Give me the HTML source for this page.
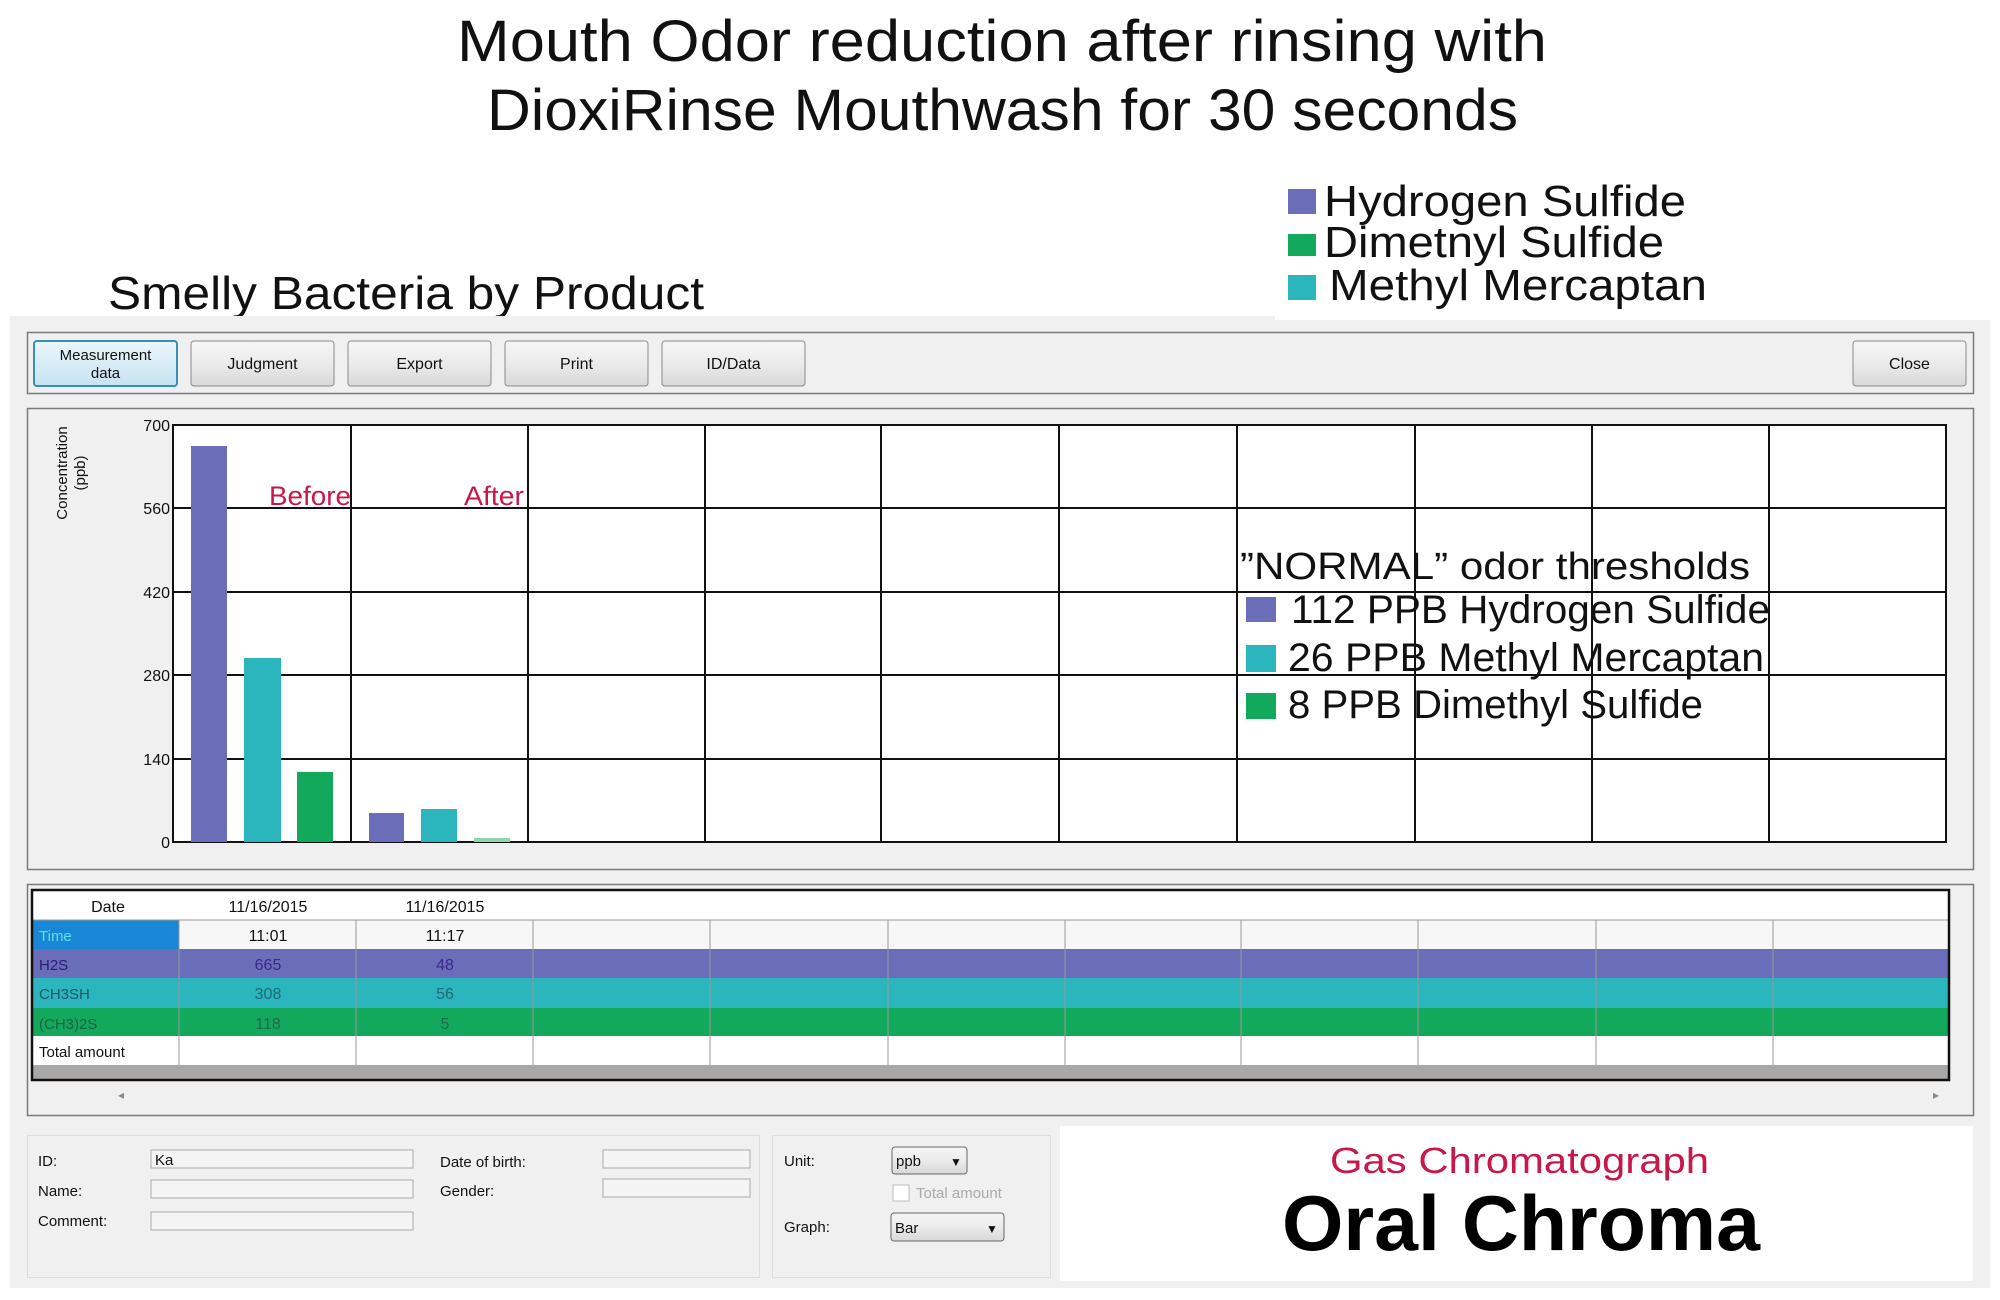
<!DOCTYPE html>
<html><head><meta charset="utf-8"><style>html,body{margin:0;padding:0;background:#fff}svg{display:block}</style></head>
<body>
<svg width="2000" height="1300" viewBox="0 0 2000 1300" xmlns="http://www.w3.org/2000/svg" font-family="Liberation Sans, DejaVu Sans, sans-serif">
<defs>
<linearGradient id="btn" x1="0" y1="0" x2="0" y2="1"><stop offset="0" stop-color="#f6f6f6"/><stop offset="0.5" stop-color="#ebebeb"/><stop offset="1" stop-color="#d8d8d8"/></linearGradient>
<linearGradient id="btn2" x1="0" y1="0" x2="0" y2="1"><stop offset="0" stop-color="#eaf6fb"/><stop offset="1" stop-color="#c6e4f2"/></linearGradient>
</defs>
<rect width="2000" height="1300" fill="#fff"/>
<!-- Titles -->
<text x="457" y="61" font-size="58" textLength="1090" lengthAdjust="spacingAndGlyphs" fill="#111">Mouth Odor reduction after rinsing with</text>
<text x="487" y="130" font-size="58" textLength="1031" lengthAdjust="spacingAndGlyphs" fill="#111">DioxiRinse Mouthwash for 30 seconds</text>
<!-- Legend -->
<rect x="1288" y="189" width="28" height="25" fill="#6a6eb8"/>
<text x="1324" y="216" font-size="44" textLength="362" lengthAdjust="spacingAndGlyphs" fill="#111">Hydrogen Sulfide</text>
<rect x="1288" y="234" width="28" height="22" fill="#12a95c"/>
<text x="1324" y="257" font-size="44" textLength="340" lengthAdjust="spacingAndGlyphs" fill="#111">Dimetnyl Sulfide</text>
<rect x="1288" y="275" width="28" height="25" fill="#2bb5bd"/>
<text x="1329" y="300" font-size="44" textLength="378" lengthAdjust="spacingAndGlyphs" fill="#111">Methyl Mercaptan</text>
<text x="108" y="309" font-size="46" textLength="596" lengthAdjust="spacingAndGlyphs" fill="#111">Smelly Bacteria by Product</text>
<!-- Panel -->
<rect x="10" y="316" width="1980" height="972" fill="#f0f0f0"/>
<rect x="1275" y="316" width="715" height="4" fill="#fff"/>
<!-- toolbar -->
<rect x="27.5" y="332.5" width="1946" height="61" fill="#f0f0f0" stroke="#7a7a7a" stroke-width="1.5"/>
<rect x="34" y="341" width="143" height="45" rx="3" fill="url(#btn2)" stroke="#3a8fb7" stroke-width="2"/>
<text x="105.5" y="360" font-size="15" text-anchor="middle" fill="#111">Measurement</text>
<text x="105.5" y="378" font-size="15" text-anchor="middle" fill="#111">data</text>
<g font-size="16" text-anchor="middle" fill="#111">
<rect x="191" y="341" width="143" height="45" rx="3" fill="url(#btn)" stroke="#8a8a8a"/><text x="262.5" y="369">Judgment</text>
<rect x="348" y="341" width="143" height="45" rx="3" fill="url(#btn)" stroke="#8a8a8a"/><text x="419.5" y="369">Export</text>
<rect x="505" y="341" width="143" height="45" rx="3" fill="url(#btn)" stroke="#8a8a8a"/><text x="576.5" y="369">Print</text>
<rect x="662" y="341" width="143" height="45" rx="3" fill="url(#btn)" stroke="#8a8a8a"/><text x="733.5" y="369">ID/Data</text>
<rect x="1853" y="341" width="113" height="45" rx="3" fill="url(#btn)" stroke="#8a8a8a"/><text x="1909.5" y="369">Close</text>
</g>
<!-- chart box -->
<rect x="27.5" y="408.5" width="1946" height="461" fill="#f0f0f0" stroke="#7a7a7a" stroke-width="1.5"/>
<rect x="173" y="425" width="1773" height="417" fill="#fff"/>
<g stroke="#111" stroke-width="2" fill="none">
<rect x="173" y="425" width="1773" height="417"/>
<path d="M351 425V842M528 425V842M705 425V842M881 425V842M1059 425V842M1237 425V842M1415 425V842M1592 425V842M1769 425V842M173 508H1946M173 592H1946M173 675H1946M173 759H1946"/>
</g>
<g font-size="16" text-anchor="end" fill="#111">
<text x="170" y="431">700</text><text x="170" y="514">560</text><text x="170" y="598">420</text><text x="170" y="681">280</text><text x="170" y="765">140</text><text x="170" y="848">0</text>
</g>
<text transform="translate(67,473) rotate(-90)" font-size="15" text-anchor="middle" fill="#111">Concentration</text>
<text transform="translate(85,473) rotate(-90)" font-size="15" text-anchor="middle" fill="#111">(ppb)</text>
<!-- bars -->
<rect x="191" y="446" width="36" height="396" fill="#6a6eb8"/>
<rect x="244" y="658" width="37" height="184" fill="#2bb5bd"/>
<rect x="297" y="772" width="36" height="70" fill="#12a95c"/>
<rect x="369" y="813" width="35" height="29" fill="#6a6eb8"/>
<rect x="421" y="809" width="36" height="33" fill="#2bb5bd"/>
<rect x="474" y="838" width="36" height="4" fill="#8fd6a8"/>
<text x="269" y="505" font-size="27" textLength="82" lengthAdjust="spacingAndGlyphs" fill="#c8184a">Before</text>
<text x="464" y="505" font-size="27" textLength="60" lengthAdjust="spacingAndGlyphs" fill="#c8184a">After</text>
<!-- thresholds -->
<text x="1240" y="579" font-size="38" textLength="510" lengthAdjust="spacingAndGlyphs" fill="#111">”NORMAL” odor thresholds</text>
<rect x="1246" y="597" width="30" height="25" fill="#6a6eb8"/>
<text x="1291" y="623" font-size="40" textLength="479" lengthAdjust="spacingAndGlyphs" fill="#111">112 PPB Hydrogen Sulfide</text>
<rect x="1246" y="645" width="30" height="27" fill="#2bb5bd"/>
<text x="1288" y="671" font-size="40" textLength="476" lengthAdjust="spacingAndGlyphs" fill="#111">26 PPB Methyl Mercaptan</text>
<rect x="1246" y="693" width="30" height="26" fill="#12a95c"/>
<text x="1288" y="718" font-size="40" textLength="415" lengthAdjust="spacingAndGlyphs" fill="#111">8 PPB Dimethyl Sulfide</text>
<!-- table box -->
<rect x="27.5" y="884.5" width="1946" height="231" fill="#f0f0f0" stroke="#7a7a7a" stroke-width="1.5"/>
<rect x="32" y="890" width="1917" height="30" fill="#fff"/>
<rect x="32" y="920" width="1917" height="29" fill="#f7f7f7"/>
<rect x="32" y="920" width="147" height="29" fill="#1a86d6"/>
<rect x="32" y="949" width="1917" height="29" fill="#6a6eb8"/>
<rect x="32" y="978" width="1917" height="30" fill="#2bb5bd"/>
<rect x="32" y="1008" width="1917" height="28" fill="#12a95c"/>
<rect x="32" y="1036" width="1917" height="29" fill="#fff"/>
<rect x="32" y="1065" width="1917" height="15" fill="#aaa8a6"/>
<g stroke="#999" stroke-width="1"><path d="M179 920V1065M356 920V1065M533 920V1065M710 920V1065M888 920V1065M1065 920V1065M1241 920V1065M1418 920V1065M1596 920V1065M1773 920V1065M32 920H1949"/></g>
<rect x="32" y="890" width="1917" height="190" fill="none" stroke="#111" stroke-width="2.5"/>
<g font-size="16" fill="#111" text-anchor="middle">
<text x="108" y="912">Date</text><text x="268" y="912">11/16/2015</text><text x="445" y="912">11/16/2015</text>
<text x="268" y="941">11:01</text><text x="445" y="941">11:17</text>
<text x="268" y="970" fill="#3a2a8a">665</text><text x="445" y="970" fill="#3a2a8a">48</text>
<text x="268" y="999" fill="#1d6c72">308</text><text x="445" y="999" fill="#1d6c72">56</text>
<text x="268" y="1029" fill="#1f6b45">118</text><text x="445" y="1029" fill="#1f6b45">5</text>
</g>
<g font-size="15" fill="#111">
<text x="39" y="941" fill="#5de0e6">Time</text>
<text x="39" y="970" fill="#2a1a78">H2S</text>
<text x="39" y="999" fill="#1a5a60">CH3SH</text>
<text x="39" y="1029" fill="#1f6040">(CH3)2S</text>
<text x="39" y="1057">Total amount</text>
</g>
<text x="118" y="1099" font-size="12" fill="#888">◂</text>
<text x="1933" y="1099" font-size="12" fill="#888">▸</text>
<!-- bottom -->
<rect x="27.5" y="1135.5" width="732" height="142" fill="#f0f0f0" stroke="#ddd"/>
<rect x="772.5" y="1135.5" width="278" height="142" fill="#f0f0f0" stroke="#ddd"/>
<rect x="1060" y="1126" width="913" height="155" fill="#fff"/>
<g font-size="15" fill="#111">
<text x="38" y="1166">ID:</text><text x="38" y="1196">Name:</text><text x="38" y="1226">Comment:</text>
<text x="440" y="1167">Date of birth:</text><text x="440" y="1196">Gender:</text>
<text x="784" y="1166">Unit:</text><text x="784" y="1232">Graph:</text>
</g>
<g fill="#f4f4f4" stroke="#aaa">
<rect x="151" y="1150" width="262" height="18"/><rect x="151" y="1180" width="262" height="18"/><rect x="151" y="1212" width="262" height="18"/>
<rect x="603" y="1150" width="147" height="18"/><rect x="603" y="1179" width="147" height="18"/>
</g>
<text x="155" y="1165" font-size="15" fill="#111">Ka</text>
<rect x="892" y="1147" width="75" height="27" rx="3" fill="url(#btn)" stroke="#666"/>
<text x="896" y="1166" font-size="15" fill="#111">ppb</text><text x="950" y="1166" font-size="12" fill="#111">▼</text>
<rect x="893" y="1185" width="16" height="16" fill="#fff" stroke="#bbb"/>
<text x="916" y="1198" font-size="15" fill="#aaa">Total amount</text>
<rect x="891" y="1213" width="113" height="28" rx="3" fill="url(#btn)" stroke="#666"/>
<text x="895" y="1233" font-size="15" fill="#111">Bar</text><text x="986" y="1233" font-size="12" fill="#111">▼</text>
<text x="1330" y="1173" font-size="36" textLength="379" lengthAdjust="spacingAndGlyphs" fill="#c8184a">Gas Chromatograph</text>
<text x="1282" y="1250" font-size="78" font-weight="bold" textLength="478" lengthAdjust="spacingAndGlyphs" fill="#000">Oral Chroma</text>
</svg>
</body></html>
